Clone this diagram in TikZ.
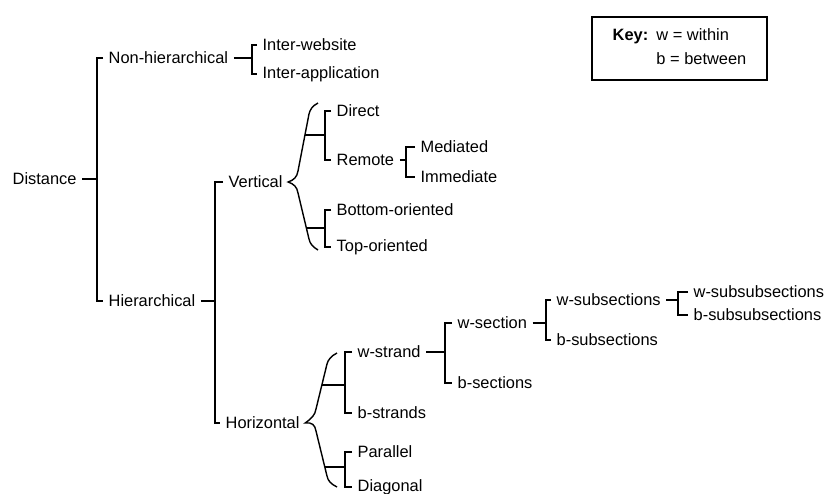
\documentclass[tikz,border=0pt]{standalone}
\usepackage{fontspec}
\setmainfont{Liberation Sans}
\usepackage{tikz}
\usetikzlibrary{positioning,calc}

\begin{document}
\begin{tikzpicture}[x=0.03cm, y=-0.03cm, line width=1.2pt,
    lbl/.style={anchor=west, inner xsep=4.25pt, inner ysep=2pt, font=\fontsize{14}{17}\selectfont}]
    \useasboundingbox (0,0) rectangle (832,493);

    %radice
    \node[lbl] (distance) at (7,179) {Distance};
    \node[lbl] (nonhier) at (103,58) {Non-hierarchical};
    \node[lbl] (hier) at (103,301) {Hierarchical};
    \coordinate (b0) at (97,179);
    \draw (distance.east) -- (distance.east -| b0);
    \draw (nonhier.west) -| (b0) |- (hier.west);

    %non gerarchico
    \node[lbl] (interweb) at (257,45) {Inter-website};
    \node[lbl] (interapp) at (257,74) {Inter-application};
    \coordinate (b1) at (252,59);
    \draw (nonhier.east) -- (nonhier.east -| b1);
    \draw (interweb.west) -| (b1) |- (interapp.west);

    %gerarchico
    \node[lbl] (vert) at (223,182) {Vertical};
    \node[lbl] (horiz) at (220,423) {Horizontal};
    \coordinate (b2) at (215,301);
    \draw (hier.east) -- (hier.east -| b2);
    \draw (vert.west) -| (b2) |- (horiz.west);

    %verticale
    \node[lbl] (direct) at (331,111) {Direct};
    \node[lbl] (remote) at (331,160) {Remote};
    \node[lbl] (bottom) at (331,210) {Bottom-oriented};
    \node[lbl] (top) at (331,247) {Top-oriented};
    \coordinate (vb1) at (325,135);
    \coordinate (vb2) at (325,228);
    \coordinate (va1) at (305,135);
    \coordinate (va2) at (306,228);
    %graffa verticale
    \draw (318,103) .. controls (312,106) and (310,110) .. (309,114) -- (298,171)
      .. controls (297,177) and (294,180) .. (vert.east)
      .. controls (294,184) and (297,187) .. (298,193) -- (309,239)
      .. controls (310,244) and (313,247) .. (318,250);
    \draw (va1) -- (vb1);
    \draw (va2) -- (vb2);
    \draw (direct.west) -| (vb1) |- (remote.west);
    \draw (bottom.west) -| (vb2) |- (top.west);

    %remoto
    \node[lbl] (mediated) at (415,147) {Mediated};
    \node[lbl] (immediate) at (415,177) {Immediate};
    \coordinate (rb) at (406,162);
    \draw (remote.east) -- (remote.east -| rb);
    \draw (mediated.west) -| (rb) |- (immediate.west);

    %orizzontale
    \node[lbl] (wstrand) at (352,352) {w-strand};
    \node[lbl] (bstrands) at (352,413) {b-strands};
    \node[lbl] (parallel) at (352,452) {Parallel};
    \node[lbl] (diagonal) at (352,487) {Diagonal};
    \coordinate (hb1) at (345,383);
    \coordinate (hb2) at (345,469);
    \coordinate (ha1) at (322,385);
    \coordinate (ha2) at (325,467);
    %graffa orizzontale
    \draw (337,353) .. controls (331,356) and (328,360) .. (327,364) -- (316,409)
      .. controls (315,415) and (312,418) .. (horiz.east)
      .. controls (312,422) and (315,425) .. (316,431) -- (327,476)
      .. controls (328,481) and (331,484) .. (337,487);
    \draw (ha1) -- (ha1 -| hb1);
    \draw (ha2) -- (ha2 -| hb2);
    \draw (wstrand.west) -| (hb1) |- (bstrands.west);
    \draw (parallel.west) -| (hb2) |- (diagonal.west);

    %w-strand
    \node[lbl] (wsection) at (452,323) {w-section};
    \node[lbl] (bsections) at (452,383) {b-sections};
    \coordinate (sb) at (445,353);
    \draw (wstrand.east) -- (wstrand.east -| sb);
    \draw (wsection.west) -| (sb) |- (bsections.west);

    %w-section
    \node[lbl] (wsubsec) at (551,300) {w-subsections};
    \node[lbl] (bsubsec) at (551,340) {b-subsections};
    \coordinate (ssb) at (546,320);
    \draw (wsection.east) -- (wsection.east -| ssb);
    \draw (wsubsec.west) -| (ssb) |- (bsubsec.west);

    %w-subsections
    \node[lbl] (wsubsub) at (688,292) {w-subsubsections};
    \node[lbl] (bsubsub) at (688,315) {b-subsubsections};
    \coordinate (sssb) at (678,303);
    \draw (wsubsec.east) -- (wsubsec.east -| sssb);
    \draw (wsubsub.west) -| (sssb) |- (bsubsub.west);

    %legenda
    \node[draw, minimum width=5.25cm, minimum height=1.89cm, font=\fontsize{14}{17}\selectfont] (key) at (679.5,48.5)
      {\begin{tabular}{@{}l@{\hspace{7pt}}l@{}}\textbf{Key:} & w = within\\[4pt] & b = between\end{tabular}};
\end{tikzpicture}
\end{document}
